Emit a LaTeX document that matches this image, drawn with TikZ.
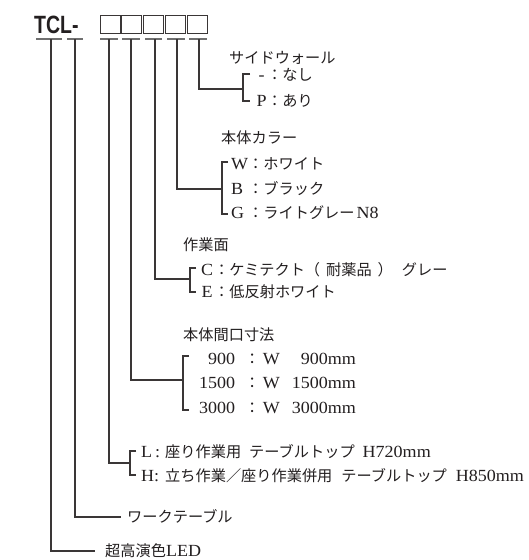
\documentclass[tikz,border=0pt]{standalone}
\usepackage{fontspec}
\newfontfamily\jp{Noto Sans CJK JP}
\newfontfamily\lat{Liberation Serif}[FakeStretch=1.06]
\newfontfamily\ttl{Liberation Sans}[FakeStretch=0.78]
\newcommand{\jpx}[1]{{\fontsize{15.2}{15.2}\jp #1}}
\definecolor{linec}{HTML}{3A3636}
\definecolor{ulc}{HTML}{707070}
\definecolor{txtc}{HTML}{231F20}
\tikzset{
  ln/.style={draw=linec, line width=1.1pt},
  ul/.style={draw=ulc, line width=1.5pt},
  txt/.style={anchor=base west, inner sep=0pt, text=txtc, font=\fontsize{17}{17}\lat},
  sq/.style={draw=linec, line width=1pt, minimum width=20pt, minimum height=18pt, inner sep=0pt},
}
\begin{document}
\begin{tikzpicture}[x=1pt,y=-1pt]
\fill[white] (0,0) rectangle (528,560);
\useasboundingbox (0,0) rectangle (528,560);

% title
\node[anchor=base west, inner sep=0pt, text=txtc, font=\fontsize{25}{25}\ttl\bfseries] (tcl) at (34,33) {TCL-};
\foreach \i in {0,...,4} \node[sq] (b\i) at (110+\i*21.8,24) {};

% underlines
\draw[ul] (36,39) -- (62,39);
\draw[ul] (67,39) -- (83,39);
\draw[ul] (100,39) -- (118,39);
\draw[ul] (122,39) -- (140,39);
\draw[ul] (145,39) -- (162,39);
\draw[ul] (167,39) -- (185,39);
\draw[ul] (189,39) -- (207,39);

\coordinate (u1) at (51,39);
\coordinate (u2) at (75,39);
\coordinate (u3) at (109,39);
\coordinate (u4) at (131,39);
\coordinate (u5) at (155,39);
\coordinate (u6) at (177,39);
\coordinate (u7) at (199,39);

% 1: side wall
\coordinate (k1) at (243,89);
\draw[ln] (u7) |- (k1);
\draw[ln] (250,74) -- (243,74) -- (243,101) -- (250,101);
\node[txt] (s1t) at (229,63) {\jpx{サイドウォール}};
\node[txt] (s1a) at (256,80) {\makebox[11pt]{-}\jpx{：なし}};
\node[txt] (s1b) at (256,106) {\makebox[11pt]{P}\jpx{：あり}};

% 2: colour
\coordinate (k2) at (222,189);
\draw[ln] (u6) |- (k2);
\draw[ln] (228,162) -- (222,162) -- (222,214) -- (228,214);
\node[txt] (s2t) at (221,143) {\jpx{本体カラー}};
\node[txt] (s2a) at (231,169) {\makebox[17pt][l]{W}\jpx{：ホワイト}};
\node[txt] (s2b) at (231,194) {\makebox[17pt][l]{B}\jpx{：ブラック}};
\node[txt] (s2c) at (231,218) {\makebox[17pt][l]{G}\jpx{：ライトグレー}\hspace{2pt}N8};

% 3: work surface
\coordinate (k3) at (190,279);
\draw[ln] (u5) |- (k3);
\draw[ln] (196,268) -- (190,268) -- (190,292) -- (196,292);
\node[txt] (s3t) at (183,250) {\jpx{作業面}};
\node[txt] (s3a) at (200,275) {\makebox[14pt]{C}\jpx{：ケミテクト（\hspace{6pt}耐薬品\hspace{6pt}）\hspace{9pt}グレー}};
\node[txt] (s3b) at (200,297) {\makebox[14pt]{E}\jpx{：低反射ホワイト}};

% 4: size
\coordinate (k4) at (183,380);
\draw[ln] (u4) |- (k4);
\draw[ln] (189,356) -- (183,356) -- (183,410) -- (189,410);
\node[txt] (s4t) at (183,340) {\jpx{本体間口寸法}};
\node[txt] (s4a) at (190,364) {\makebox[45pt][r]{900}\hspace{9.5pt}\jpx{：}\hspace{3pt}W\makebox[76pt][r]{900mm}};
\node[txt] (s4b) at (190,388) {\makebox[45pt][r]{1500}\hspace{9.5pt}\jpx{：}\hspace{3pt}W\makebox[76pt][r]{1500mm}};
\node[txt] (s4c) at (190,413) {\makebox[45pt][r]{3000}\hspace{9.5pt}\jpx{：}\hspace{3pt}W\makebox[76pt][r]{3000mm}};

% 5: height
\coordinate (k5) at (130,463);
\draw[ln] (u3) |- (k5);
\draw[ln] (136,451) -- (130,451) -- (130,475) -- (136,475);
\node[txt] (s5a) at (141,457) {L\hspace{3pt}:\hspace{5pt}\jpx{座り作業用}\hspace{8pt}\jpx{テーブルトップ}\hspace{8pt}H720mm};
\node[txt] (s5b) at (141,481) {H:\hspace{6pt}\jpx{立ち作業／座り作業併用}\hspace{9pt}\jpx{テーブルトップ}\hspace{9pt}H850mm};

% 6: work table
\coordinate (k6) at (121,517);
\draw[ln] (u2) |- (k6);
\node[txt] (s6) at (127,522) {\jpx{ワークテーブル}};

% 7: LED
\coordinate (k7) at (95,551);
\draw[ln] (u1) |- (k7);
\node[txt] (s7) at (105,556) {\jpx{超高演色}LED};
\end{tikzpicture}
\end{document}
